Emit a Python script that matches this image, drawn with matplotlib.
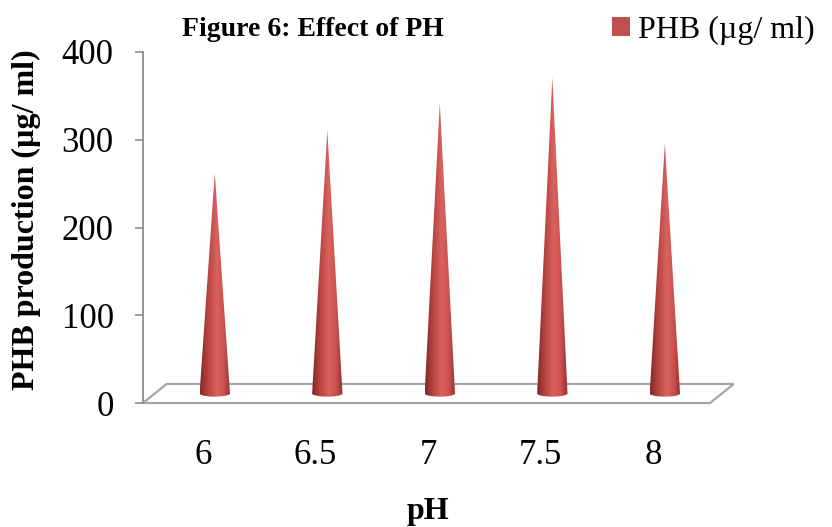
import numpy as np
import matplotlib.pyplot as plt
from matplotlib.patches import Polygon, Patch
from matplotlib.colors import LinearSegmentedColormap

# data
ph_labels = ['6', '6.5', '7', '7.5', '8']
phb_values = [251, 300, 331, 360, 285]
y_ticks = [0, 100, 200, 300, 400]

plt.rcParams['font.family'] = ['Liberation Serif', 'DejaVu Serif']

fig = plt.figure(figsize=(8.32, 5.27), dpi=100)
ax = fig.add_axes([143 / 832, 124 / 527, 597 / 832, 351 / 527])

# pseudo-3D floor
depth_x, depth_y = 0.21, 21.7
fx0, fx1 = -0.533, 4.507
floor = Polygon([(fx0, 0), (fx1, 0), (fx1 + depth_x, depth_y), (fx0 + depth_x, depth_y)],
                closed=True, facecolor='white', edgecolor='#a6a6a6', lw=1.6,
                clip_on=False, zorder=1)
ax.add_patch(floor)

# cone shading across the width
cone_cmap = LinearSegmentedColormap.from_list(
    'cone', [(0.0, '#822826'), (0.2, '#ae3e3a'), (0.55, '#da635f'),
             (0.8, '#c84e4a'), (1.0, '#8e302d')])
grad = cone_cmap(np.linspace(0, 1, 64))[np.newaxis, :, :3]

half_w = 0.135
ry = 3.6
base_y = depth_y / 2
for i, v in enumerate(phb_values):
    cx = i + depth_x / 2
    tip = base_y + v
    t = np.linspace(np.pi, 2 * np.pi, 30)
    arc = np.column_stack([cx + half_w * np.cos(t), base_y + ry * np.sin(t)])
    pts = np.vstack([[cx, tip], arc, [cx, tip]])
    cone = Polygon(pts, closed=True, facecolor='none', edgecolor='none', zorder=3)
    ax.add_patch(cone)
    im = ax.imshow(grad, extent=(cx - half_w, cx + half_w, base_y - ry, tip),
                   aspect='auto', interpolation='bilinear', zorder=3)
    im.set_clip_path(cone)

ax.set_xlim(-0.533, 4.773)
ax.set_ylim(0, 400)

for s in ['top', 'right', 'bottom']:
    ax.spines[s].set_visible(False)
ax.spines['left'].set_color('#8c8c8c')
ax.spines['left'].set_linewidth(1.3)
ax.spines['left'].set_bounds(0, 400)

ax.set_yticks(y_ticks)
ax.set_yticklabels([str(t) for t in y_ticks])
ax.tick_params(axis='y', direction='out', length=6, width=1.2, color='#8c8c8c',
               labelsize=25, pad=15)
ax.set_xticks(range(len(ph_labels)))
ax.set_xticklabels(ph_labels)
ax.tick_params(axis='x', length=0, labelsize=25, pad=26)

fig.text(313 / 832, 1 - 30 / 527, 'Figure 6: Effect of PH', fontsize=20,
         fontweight='bold', ha='center', va='center')
fig.text(26 / 832, 1 - 220 / 527, 'PHB production (µg/ ml)', fontsize=23,
         fontweight='bold', rotation=90, ha='center', va='center')
fig.text(428 / 832, 1 - 512 / 527, 'pH', fontsize=23, fontweight='bold',
         ha='center', va='center')

handle = Patch(facecolor='#c0504d', edgecolor='none', label='PHB (µg/ ml)')
fig.legend(handles=[handle], loc='center left', bbox_to_anchor=(612 / 832, 1 - 30 / 527),
           frameon=False, fontsize=23, handlelength=0.55, handleheight=0.55,
           handletextpad=0.25, borderpad=0, borderaxespad=0)

fig.savefig('out.png', dpi=100)
